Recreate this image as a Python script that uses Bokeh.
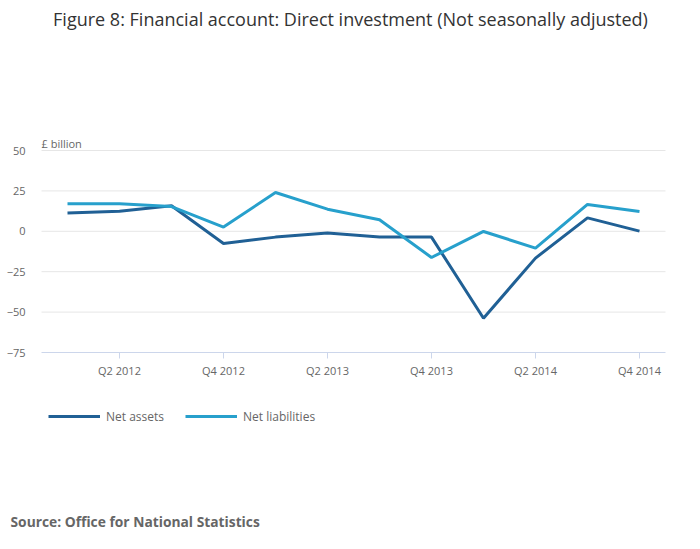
from bokeh.plotting import figure
from bokeh.models import Label, Legend, LegendItem, FixedTicker, Range1d
from bokeh.embed import file_html
from bokeh.resources import INLINE

quarters = ["Q1 2012", "Q2 2012", "Q3 2012", "Q4 2012",
            "Q1 2013", "Q2 2013", "Q3 2013", "Q4 2013",
            "Q1 2014", "Q2 2014", "Q3 2014", "Q4 2014"]
net_assets = [11.4, 12.4, 15.8, -7.5, -3.6, -1.0, -3.5, -3.6, -53.8, -16.6, 8.3, 0.1]
net_liabilities = [17.0, 17.0, 15.3, 2.6, 24.0, 13.7, 7.1, -16.2, -0.1, -10.4, 16.6, 12.2]
y_ticks = [-75, -50, -25, 0, 25, 50]
x_tick_labels = ["Q2 2012", "Q4 2012", "Q2 2013", "Q4 2013", "Q2 2014", "Q4 2014"]

FONT = "Open Sans"
GREY = "#666666"

# page geometry (pixels in the photographed page); the plot frame covers the
# whole canvas and the axes are pinned inside it
W, H = 684, 533
PLOT_L, PLOT_R = 41, 665          # left/right edge of the plotting area
Y50_PX, Y75_PX = 150, 352         # pixel rows of the 50 and -75 lines
ppu = (Y75_PX - Y50_PX) / 125.0
ppq = (PLOT_R - PLOT_L) / len(quarters)

xs = list(range(len(quarters)))
x_tick_pos = [quarters.index(q) for q in x_tick_labels]
x_lo, x_hi = -0.5, len(quarters) - 0.5

x_start = x_lo - PLOT_L / ppq
x_end = x_lo + (W - PLOT_L) / ppq
y_top = 50 + Y50_PX / ppu
y_bot = 50 - (H - Y50_PX) / ppu

p = figure(width=W, height=H, output_backend="svg", toolbar_location=None,
           title_location=None,
           x_range=Range1d(x_start, x_end), y_range=Range1d(y_bot, y_top),
           min_border=0, min_border_left=0, min_border_right=0,
           min_border_top=0, min_border_bottom=0)
p.outline_line_color = None
p.background_fill_color = "white"
p.border_fill_color = "white"
p.xgrid.grid_line_color = None
p.ygrid.grid_line_color = None

# horizontal grid lines limited to the plotting area
grid_vals = [t for t in y_ticks if t != min(y_ticks)]
p.segment(x0=[x_lo] * len(grid_vals), x1=[x_hi] * len(grid_vals),
          y0=grid_vals, y1=grid_vals, line_color="#e6e6e6", line_width=1)

r1 = p.line(xs, net_assets, line_color="#206095", line_width=3)
r2 = p.line(xs, net_liabilities, line_color="#27a0cc", line_width=3)

xa = p.xaxis[0]
xa.fixed_location = min(y_ticks)
xa.bounds = (x_lo, x_hi)
xa.ticker = FixedTicker(ticks=x_tick_pos)
xa.major_label_overrides = {i: q for i, q in zip(x_tick_pos, x_tick_labels)}
xa.axis_line_color = "#ccd6eb"
xa.major_tick_line_color = "#ccd6eb"
xa.major_tick_in = 0
xa.major_tick_out = 6
xa.minor_tick_line_color = None
xa.major_label_text_font = FONT
xa.major_label_text_font_size = "11px"
xa.major_label_text_color = GREY
xa.major_label_standoff = 4

ya = p.yaxis[0]
ya.fixed_location = x_lo
ya.ticker = FixedTicker(ticks=y_ticks)
ya.axis_line_color = None
ya.major_tick_line_color = None
ya.minor_tick_line_color = None
ya.major_label_text_font = FONT
ya.major_label_text_font_size = "11px"
ya.major_label_text_color = GREY
ya.major_label_standoff = 10

def screen_label(px, py, text, size, color=GREY, align="left", style="normal"):
    return Label(x=px, y=H - py, x_units="screen", y_units="screen", text=text,
                 text_align=align, text_baseline="middle", text_font=FONT,
                 text_font_size=size, text_font_style=style, text_color=color)

p.add_layout(screen_label(350, 18,
             "Figure 8: Financial account: Direct investment (Not seasonally adjusted)",
             "18px", color="#333333", align="center"))
p.add_layout(screen_label(41, 143, "£ billion", "11px"))
p.add_layout(screen_label(10, 521, "Source: Office for National Statistics", "13.8px",
                          style="bold"))

legend = Legend(items=[LegendItem(label="Net assets", renderers=[r1]),
                       LegendItem(label="Net liabilities", renderers=[r2])],
                location=(48, H - 426), orientation="horizontal",
                glyph_width=52, glyph_height=20, label_standoff=6, spacing=21,
                padding=0, margin=0, border_line_color=None,
                background_fill_alpha=0,
                label_text_font=FONT, label_text_font_size="12px",
                label_text_color=GREY)
p.add_layout(legend, "center")

open("out.html", "w").write(file_html(p, INLINE))
